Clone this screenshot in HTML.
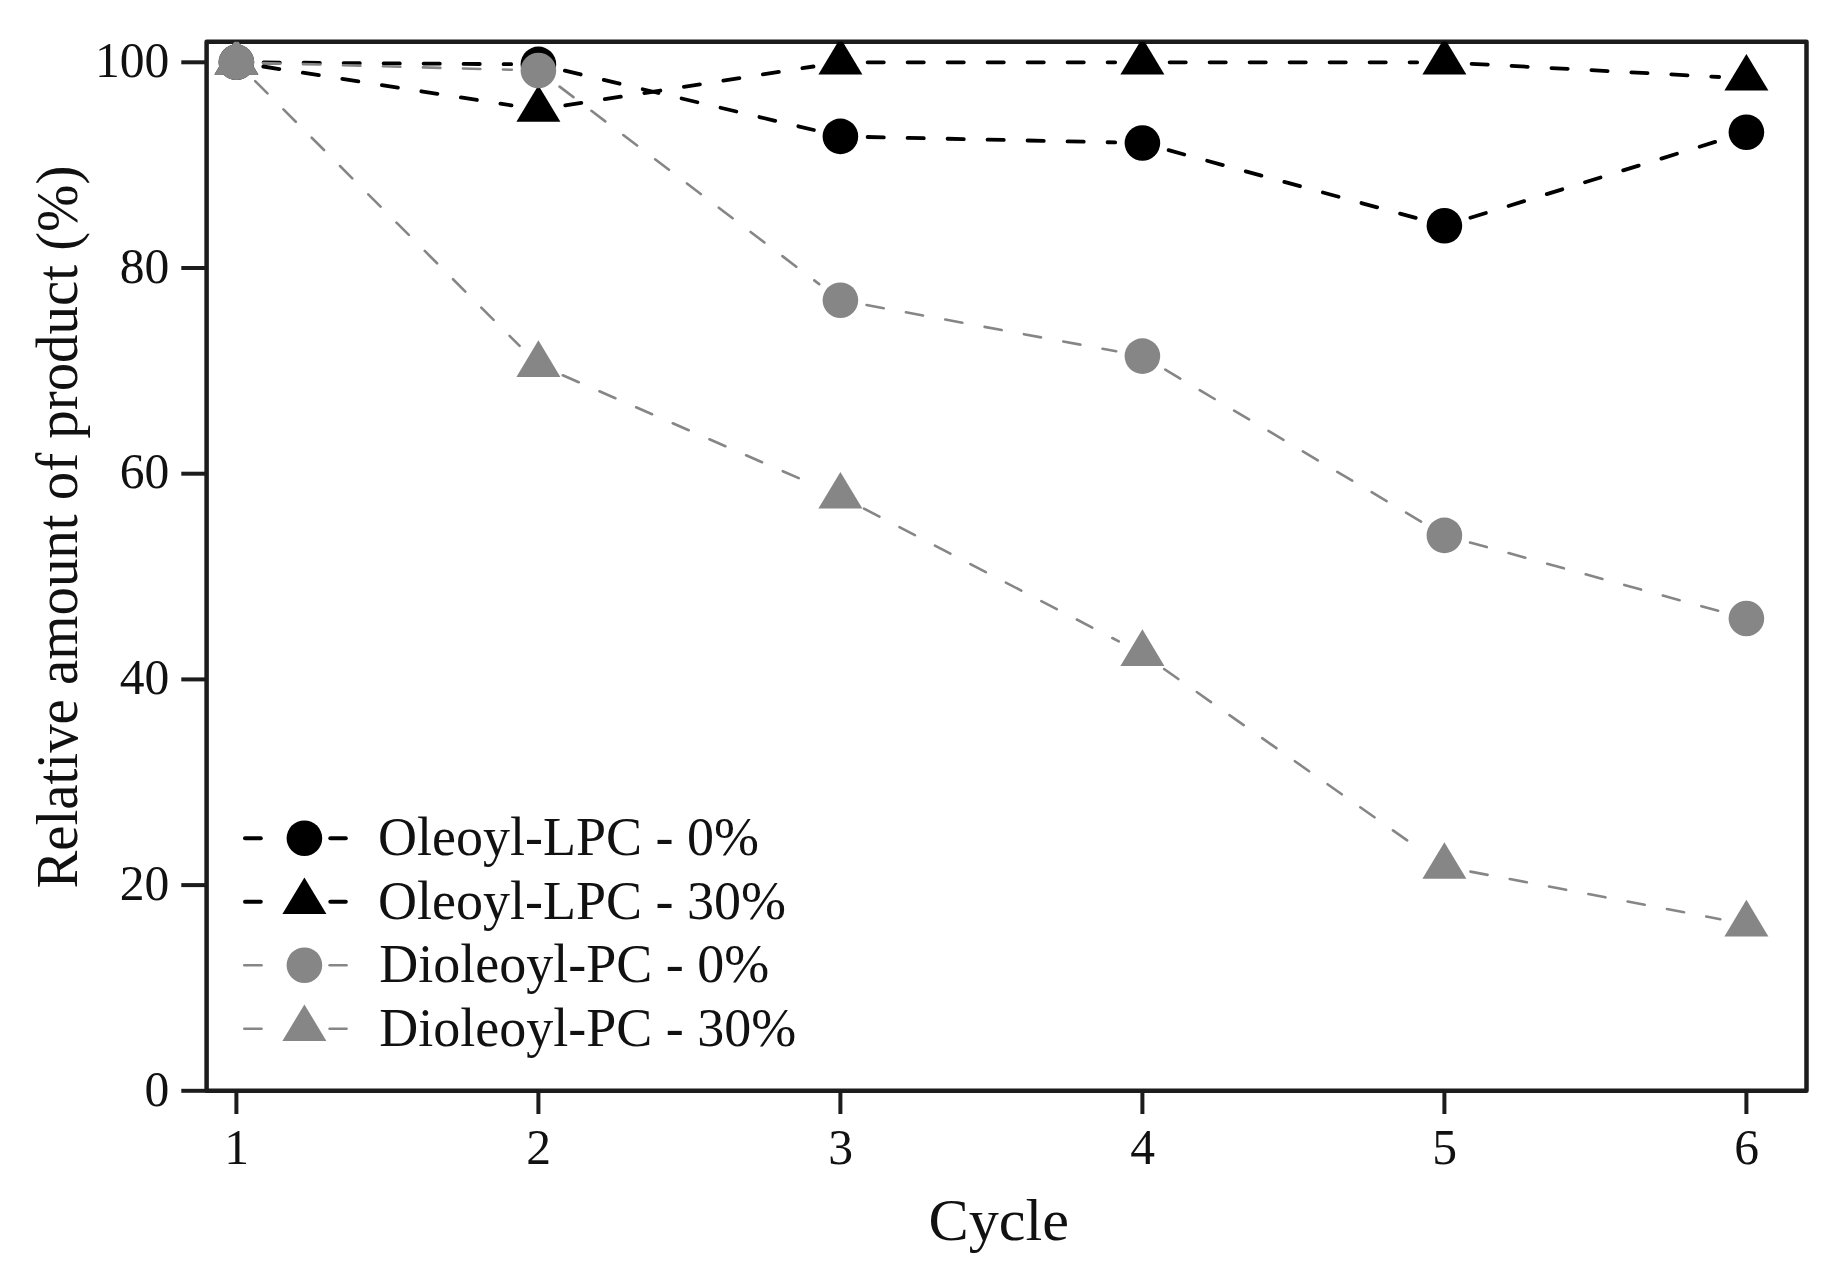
<!DOCTYPE html>
<html lang="en"><head><meta charset="utf-8"><title>Relative amount of product per cycle</title>
<style>
html,body{margin:0;padding:0;background:#fff;}
body{width:1847px;height:1280px;overflow:hidden;}
svg{display:block;font-family:"Liberation Serif","Times New Roman",serif;}
</style></head><body>
<svg width="1847" height="1280" viewBox="0 0 1847 1280">
<rect width="1847" height="1280" fill="#fff"/>
<defs><clipPath id="plotclip"><rect x="206.6" y="41.7" width="1599.9" height="1049.1"/></clipPath></defs>
<rect x="206.6" y="41.7" width="1599.9" height="1049.1" fill="none" stroke="#1c1c1c" stroke-width="4.5" stroke-linejoin="round"/>
<g clip-path="url(#plotclip)">
<g stroke="#000" stroke-width="3.8" stroke-linecap="round" stroke-dasharray="16.2 23.8" fill="none"><line x1="263.6" y1="62.5" x2="511.2" y2="64.2"/><line x1="564.9" y1="70.7" x2="813.9" y2="130.0"/><line x1="867.6" y1="137.0" x2="1115.2" y2="142.4"/><line x1="1168.6" y1="150.2" x2="1418.2" y2="218.6"/><line x1="1470.4" y1="217.8" x2="1720.4" y2="140.3"/></g>
<g fill="#000"><circle cx="236.4" cy="62.3" r="17.8"/><circle cx="538.4" cy="64.4" r="17.8"/><circle cx="840.4" cy="136.4" r="17.8"/><circle cx="1142.4" cy="143.0" r="17.8"/><circle cx="1444.4" cy="225.8" r="17.8"/><circle cx="1746.4" cy="132.2" r="17.8"/></g>
<g stroke="#000" stroke-width="3.8" stroke-linecap="round" stroke-dasharray="16.2 23.8" fill="none"><line x1="263.3" y1="66.5" x2="511.5" y2="105.4"/><line x1="565.3" y1="105.4" x2="813.5" y2="66.5"/><line x1="867.6" y1="62.3" x2="1115.2" y2="62.3"/><line x1="1169.6" y1="62.3" x2="1417.2" y2="62.3"/><line x1="1471.6" y1="63.8" x2="1719.2" y2="77.0"/></g>
<g fill="#000"><polygon points="236.4,37.9 258.4,74.5 214.4,74.5"/><polygon points="538.4,85.2 560.4,121.8 516.4,121.8"/><polygon points="840.4,37.9 862.4,74.5 818.4,74.5"/><polygon points="1142.4,37.9 1164.4,74.5 1120.4,74.5"/><polygon points="1444.4,37.9 1466.4,74.5 1422.4,74.5"/><polygon points="1746.4,54.0 1768.4,90.6 1724.4,90.6"/></g>
<g stroke="#868686" stroke-width="2.6" stroke-linecap="round" stroke-dasharray="17.4 22.6" fill="none"><line x1="263.0" y1="63.0" x2="511.8" y2="69.8"/><line x1="559.6" y1="86.6" x2="819.2" y2="284.1"/><line x1="866.6" y1="305.0" x2="1116.2" y2="351.3"/><line x1="1165.3" y1="369.7" x2="1421.5" y2="521.8"/><line x1="1470.0" y1="542.5" x2="1720.8" y2="611.5"/></g>
<g fill="#868686"><circle cx="236.4" cy="62.3" r="17.8"/><circle cx="538.4" cy="70.5" r="17.8"/><circle cx="840.4" cy="300.2" r="17.8"/><circle cx="1142.4" cy="356.1" r="17.8"/><circle cx="1444.4" cy="535.4" r="17.8"/><circle cx="1746.4" cy="618.5" r="17.8"/></g>
<g stroke="#868686" stroke-width="2.6" stroke-linecap="round" stroke-dasharray="17.4 22.6" fill="none"><line x1="255.2" y1="81.1" x2="519.6" y2="345.9"/><line x1="562.8" y1="375.3" x2="816.0" y2="485.7"/><line x1="864.0" y1="508.6" x2="1118.8" y2="641.4"/><line x1="1164.1" y1="669.0" x2="1422.7" y2="851.3"/><line x1="1470.5" y1="871.6" x2="1720.3" y2="919.2"/></g>
<g fill="#868686"><polygon points="236.4,37.9 258.4,74.5 214.4,74.5"/><polygon points="538.4,340.3 560.4,376.9 516.4,376.9"/><polygon points="840.4,471.9 862.4,508.5 818.4,508.5"/><polygon points="1142.4,629.3 1164.4,665.9 1120.4,665.9"/><polygon points="1444.4,842.2 1466.4,878.8 1422.4,878.8"/><polygon points="1746.4,899.8 1768.4,936.4 1724.4,936.4"/></g>
</g>
<g stroke="#1c1c1c" stroke-width="4" stroke-linecap="butt"><line x1="236.4" y1="1090.8" x2="236.4" y2="1114"/><line x1="538.4" y1="1090.8" x2="538.4" y2="1114"/><line x1="840.4" y1="1090.8" x2="840.4" y2="1114"/><line x1="1142.4" y1="1090.8" x2="1142.4" y2="1114"/><line x1="1444.4" y1="1090.8" x2="1444.4" y2="1114"/><line x1="1746.4" y1="1090.8" x2="1746.4" y2="1114"/><line x1="181.3" y1="1090.8" x2="206.6" y2="1090.8"/><line x1="181.3" y1="885.1" x2="206.6" y2="885.1"/><line x1="181.3" y1="679.4" x2="206.6" y2="679.4"/><line x1="181.3" y1="473.7" x2="206.6" y2="473.7"/><line x1="181.3" y1="268.0" x2="206.6" y2="268.0"/><line x1="181.3" y1="62.3" x2="206.6" y2="62.3"/></g>
<g font-size="51" fill="#111"><text x="224.3" y="1163.8" textLength="24.8" lengthAdjust="spacingAndGlyphs">1</text><text x="526.3" y="1163.8" textLength="24.8" lengthAdjust="spacingAndGlyphs">2</text><text x="828.3" y="1163.8" textLength="24.8" lengthAdjust="spacingAndGlyphs">3</text><text x="1130.3" y="1163.8" textLength="24.8" lengthAdjust="spacingAndGlyphs">4</text><text x="1432.3" y="1163.8" textLength="24.8" lengthAdjust="spacingAndGlyphs">5</text><text x="1734.3" y="1163.8" textLength="24.8" lengthAdjust="spacingAndGlyphs">6</text><text x="144.5" y="1105.5" textLength="24.8" lengthAdjust="spacingAndGlyphs">0</text><text x="119.7" y="899.8" textLength="49.6" lengthAdjust="spacingAndGlyphs">20</text><text x="119.7" y="694.1" textLength="49.6" lengthAdjust="spacingAndGlyphs">40</text><text x="119.7" y="488.4" textLength="49.6" lengthAdjust="spacingAndGlyphs">60</text><text x="119.7" y="282.7" textLength="49.6" lengthAdjust="spacingAndGlyphs">80</text><text x="94.9" y="77.0" textLength="74.4" lengthAdjust="spacingAndGlyphs">100</text></g>
<text x="928.5" y="1239.8" font-size="59.5" textLength="140.5" lengthAdjust="spacingAndGlyphs" fill="#111">Cycle</text>
<text transform="translate(76.6,888.6) rotate(-90)" font-size="59.5" textLength="723" lengthAdjust="spacingAndGlyphs" fill="#111">Relative amount of product (%)</text>
<g stroke="#000" stroke-width="4.0" stroke-linecap="round"><line x1="245.0" y1="838.2" x2="260.8" y2="838.2"/><line x1="330.3" y1="838.2" x2="345.8" y2="838.2"/></g>
<circle cx="304.4" cy="838.2" r="17.8" fill="#000"/>
<text x="378" y="855.3" font-size="54" fill="#111">Oleoyl-LPC - 0%</text>
<g stroke="#000" stroke-width="4.0" stroke-linecap="round"><line x1="245.0" y1="901.8" x2="260.8" y2="901.8"/><line x1="330.3" y1="901.8" x2="345.8" y2="901.8"/></g>
<polygon points="304.4,877.4 326.4,914.0 282.4,914.0" fill="#000"/>
<text x="378" y="918.9" font-size="54" fill="#111">Oleoyl-LPC - 30%</text>
<g stroke="#868686" stroke-width="2.6" stroke-linecap="round"><line x1="244.3" y1="965.2" x2="261.5" y2="965.2"/><line x1="329.6" y1="965.2" x2="346.5" y2="965.2"/></g>
<circle cx="304.4" cy="965.2" r="17.8" fill="#868686"/>
<text x="379.3" y="982.3" font-size="54" fill="#111">Dioleoyl-PC - 0%</text>
<g stroke="#868686" stroke-width="2.6" stroke-linecap="round"><line x1="244.3" y1="1028.8" x2="261.5" y2="1028.8"/><line x1="329.6" y1="1028.8" x2="346.5" y2="1028.8"/></g>
<polygon points="304.4,1004.4 326.4,1041.0 282.4,1041.0" fill="#868686"/>
<text x="379.3" y="1045.9" font-size="54" fill="#111">Dioleoyl-PC - 30%</text>
</svg>
</body></html>
